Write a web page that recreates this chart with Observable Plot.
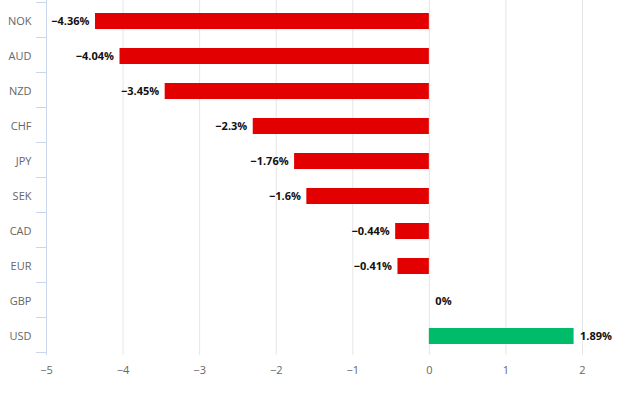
<!DOCTYPE html>
<html><head><meta charset="utf-8">
<script src="https://cdn.jsdelivr.net/npm/d3@7"></script>
<script src="https://cdn.jsdelivr.net/npm/@observablehq/plot@0.6"></script>
<style>body{margin:0;background:#fff}</style>
</head><body><div id="chart"></div>
<script>
const currencies = ["NOK","AUD","NZD","CHF","JPY","SEK","CAD","EUR","GBP","USD"];
const changes = [-4.36,-4.04,-3.45,-2.3,-1.76,-1.6,-0.44,-0.41,0,1.89];
const xTicks = [-5,-4,-3,-2,-1,0,1,2];

const data = currencies.map((c,i)=>({currency:c, change:changes[i]}));
const fmt = v => (v<0 ? "\u2212" : "") + Math.abs(v) + "%";
const RED = "#e30000", GREEN = "#00bb6a";
const font = "'Open Sans', sans-serif";

const boundaryTicks = Plot.ruleY(currencies, {y: d=>d, render: (index, scales, values, dims) => {
  const y = scales.y;
  const n = currencies.length;
  const step = y.step ? y.step() : (dims.height - dims.marginTop - dims.marginBottom)/n;
  const bw = y.bandwidth ? y.bandwidth() : 0;
  const off = (step - bw)/2;
  const bounds = currencies.map(c => y(c) - off).concat([y(currencies[n-1]) + bw + off]);
  const g = d3.create("svg:g");
  g.selectAll("line").data(bounds).join("line")
    .attr("x1", dims.marginLeft - 10).attr("x2", dims.marginLeft)
    .attr("y1", d => Math.max(0.5, Math.round(d) - 0.5)).attr("y2", d => Math.max(0.5, Math.round(d) - 0.5))
    .attr("stroke", "#ccd6eb");
  return g.node();
}});

const chart = Plot.plot({
  width: 624, height: 396,
  marginLeft: 46, marginRight: 42, marginTop: 0, marginBottom: 41,
  style: {fontFamily: font, fontSize: "11px", background: "#fff", overflow: "visible"},
  x: {domain: [-5, 2], label: null},
  y: {domain: currencies, paddingInner: 0.55, paddingOuter: 0.275, label: null},
  marks: [
    Plot.ruleX(xTicks.filter(t => t > -5), {stroke: "#e6e6e6", strokeOpacity: 1}),
    Plot.ruleX([-5], {stroke: "#ccd6eb", strokeOpacity: 1}),
    boundaryTicks,
    Plot.axisX({ticks: xTicks, tickSize: 0, tickPadding: 11, label: null, tickFormat: d => d < 0 ? "\u2212" + Math.abs(d) : String(d), fill: "#666", fontSize: 11}),
    Plot.axisY({tickSize: 0, tickPadding: 15, label: null, fill: "#666", fontSize: 11, dy: 1}),
    Plot.barX(data, {x: "change", y: "currency", fill: d => d.change < 0 ? RED : GREEN, dy: 1}),
    Plot.text(data.filter(d => d.change < 0), {x: "change", y: "currency", text: d => fmt(d.change), textAnchor: "end", dx: -6, dy: 1, fontWeight: "bold", fill: "#111", fontSize: 11}),
    Plot.text(data.filter(d => d.change >= 0), {x: "change", y: "currency", text: d => fmt(d.change), textAnchor: "start", dx: 6, dy: 1, fontWeight: "bold", fill: "#111", fontSize: 11})
  ]
});
document.getElementById("chart").append(chart);
</script>
</body></html>
